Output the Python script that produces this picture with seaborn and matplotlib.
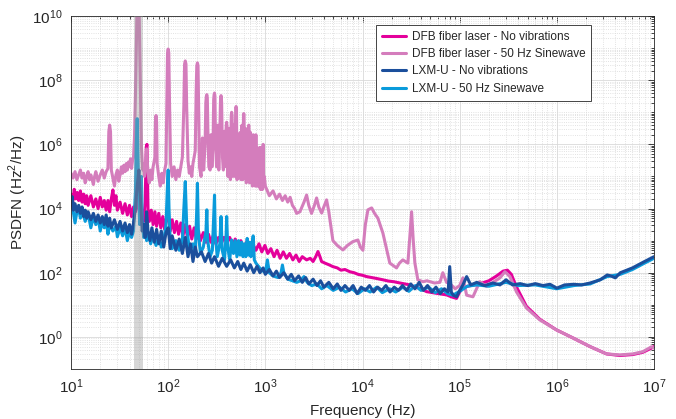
import numpy as np
import pandas as pd
import seaborn as sns
import matplotlib.pyplot as plt
from matplotlib.ticker import FixedLocator, NullFormatter, LogFormatterSciNotation
from matplotlib.lines import Line2D

# values: (frequency in Hz, log10 of PSDFN in Hz^2/Hz)
dfb_no_vib = [
    (10, 4.45), (10.4, 4.2), (10.8, 4.6), (11.2, 4.3), (11.6, 4.5), (12, 4.25), (12.5, 4.55), (13, 4.2),
    (13.5, 4.45), (14, 4.15), (14.5, 4.4), (15, 4.1), (16, 4.4), (17, 4.05), (18, 4.3), (19, 4.0),
    (20, 4.35), (21, 4.05), (22, 4.25), (23, 3.95), (24, 4.25), (25, 3.9), (26, 4.3), (27, 4.58),
    (28, 4.1), (29, 4.4), (30, 3.95), (32, 4.2), (34, 3.85), (36, 4.15), (38, 3.8), (40, 4.1),
    (42, 3.75), (44, 4.05), (46, 3.9), (48, 4.3), (50, 4.0), (52, 3.7), (54, 3.95), (56, 3.6),
    (58, 4.2), (59.5, 5.9), (60.5, 6.0), (62, 4.0), (64, 3.6), (67, 3.95), (70, 3.5), (73, 3.9), (76, 3.45),
    (80, 3.85), (84, 3.4), (88, 3.75), (92, 3.35), (96, 3.7), (100, 3.8), (105, 3.3), (110, 3.65),
    (116, 3.25), (122, 3.6), (128, 3.2), (135, 3.55), (142, 3.15), (150, 3.5), (158, 3.1), (166, 3.45),
    (175, 3.05), (185, 3.4), (195, 3.05), (205, 3.3), (215, 3.0), (230, 3.25), (245, 2.95), (260, 3.2),
    (275, 2.95), (290, 3.15), (310, 2.9), (330, 3.1), (350, 2.9), (375, 3.1), (400, 2.95), (430, 3.1),
    (460, 2.85), (490, 3.05), (520, 2.8), (560, 3.0), (600, 2.75), (640, 2.95), (690, 2.7), (740, 2.9),
    (800, 2.7), (860, 2.9), (920, 2.65), (990, 2.85), (1060, 2.6), (1140, 2.75), (1230, 2.5), (1320, 2.7),
    (1420, 2.45), (1530, 2.65), (1650, 2.45), (1780, 2.6), (1920, 2.4), (2070, 2.55), (2230, 2.35),
    (2400, 2.5), (2660, 2.4), (2900, 2.45), (3100, 2.35), (3300, 2.5), (3480, 2.66), (3650, 2.5),
    (3790, 2.35), (4100, 2.3), (4500, 2.25), (4960, 2.19), (5500, 2.15), (6000, 2.08), (6600, 2.1),
    (7420, 2.03), (8200, 2.0), (9000, 1.95), (10000, 1.92), (11000, 1.88), (12500, 1.85), (14000, 1.82),
    (16200, 1.78), (18500, 1.74), (21000, 1.72), (24300, 1.68), (27500, 1.65), (30800, 1.62),
    (35000, 1.55), (40000, 1.5), (45700, 1.41), (52000, 1.38), (60000, 1.35), (73300, 1.31),
    (82000, 1.25), (92900, 1.2), (100000, 1.4), (110000, 1.55), (130000, 1.6), (160000, 1.65),
    (200000, 1.75), (240000, 1.9), (280000, 2.05), (310000, 2.08), (340000, 1.95), (385000, 1.55),
    (487000, 0.95), (668000, 0.55), (990000, 0.22), (1460000, -0.03), (2190000, -0.3),
    (3250000, -0.53), (4450000, -0.58), (6050000, -0.55), (7670000, -0.48), (9400000, -0.35),
    (10000000, -0.3),
]

dfb_50hz = [
    (10, 5.10), (10.5, 4.95), (11, 5.15), (11.5, 4.90), (12, 5.05), (12.5, 5.20), (13, 4.95), (13.5, 5.10),
    (14, 4.80), (14.5, 5.00), (15, 5.15), (15.5, 4.90), (16, 5.05), (17, 4.75), (17.5, 5.00), (18, 5.15),
    (19, 4.85), (20, 5.05), (21, 5.20), (22, 4.95), (23, 5.15), (24, 5.25), (24.5, 6.40), (25, 6.60),
    (25.5, 6.40), (26, 5.20), (27, 4.95), (28, 4.70), (29, 5.05), (30, 5.20), (31, 4.85), (32, 5.05),
    (33, 5.30), (34, 5.10), (35, 5.35), (36, 5.15), (37, 5.40), (38, 5.20), (39, 5.45), (40, 5.30),
    (41, 5.55), (42, 5.25), (43, 5.50), (44, 5.60), (45, 6.20), (46, 7.50), (47, 9.00), (48, 10.5),
    (50, 10.5), (51, 9.00), (52, 7.50), (53, 6.00), (54, 5.50), (55, 5.20), (56, 5.40), (57, 5.00),
    (58, 5.30), (60, 5.86), (62, 5.10), (64, 4.80), (66, 5.20), (68, 4.90), (70, 5.30), (73, 5.60),
    (74, 6.70), (75, 6.90), (76, 6.70), (77, 5.40), (80, 5.00), (83, 4.70), (86, 5.10), (89, 4.80),
    (92, 5.20), (95, 5.40), (97, 7.50), (98.5, 8.85), (100, 8.97), (101.5, 8.85), (103, 7.50),
    (106, 5.40), (110, 5.00), (115, 5.30), (120, 4.90), (125, 5.20), (130, 5.00), (135, 5.30),
    (140, 5.60), (145, 7.20), (147.5, 8.50), (150, 8.60), (152.5, 8.50), (155, 7.20), (160, 5.50),
    (165, 5.10), (170, 5.30), (175, 5.00), (180, 5.40), (190, 5.80), (194, 7.60), (197, 8.45),
    (200, 8.54), (203, 8.45), (206, 7.00), (210, 5.30), (218, 5.00), (225, 6.20), (232, 5.20),
    (240, 6.00), (244, 7.30), (247, 7.50), (250, 7.55), (253, 7.45), (256, 6.50), (262, 5.30),
    (270, 5.20), (276, 6.30), (282, 5.30), (290, 6.10), (294, 7.40), (297, 7.55), (300, 7.60),
    (303, 7.50), (307, 6.00), (315, 5.30), (325, 6.60), (332, 5.20), (340, 6.30), (345, 7.30),
    (350, 7.52), (355, 7.30), (362, 5.60), (370, 5.20), (376, 6.40), (383, 5.30), (390, 6.00),
    (396, 6.60), (400, 6.69), (405, 6.50), (412, 5.00), (425, 6.50), (437, 4.90), (446, 6.90),
    (450, 7.00), (455, 6.90), (462, 5.00), (475, 6.60), (487, 5.00), (495, 7.10), (500, 7.18),
    (505, 7.10), (512, 4.90), (525, 6.30), (537, 5.00), (550, 6.37), (562, 4.90), (575, 6.60),
    (587, 4.90), (596, 6.90), (600, 6.96), (604, 6.90), (612, 5.00), (625, 6.50), (637, 4.80),
    (650, 6.41), (662, 4.90), (675, 6.60), (687, 4.80), (700, 6.38), (712, 4.80), (725, 6.20),
    (737, 4.70), (750, 6.30), (762, 4.80), (775, 6.10), (787, 4.70), (800, 6.30), (812, 4.70),
    (825, 5.90), (837, 4.70), (850, 5.63), (862, 4.70), (875, 5.90), (887, 4.60), (900, 5.90),
    (912, 4.60), (925, 5.70), (937, 4.60), (950, 6.00), (962, 4.80), (975, 5.00), (990, 4.80),
    (1000, 4.70), (1100, 4.40), (1200, 4.55), (1300, 4.30), (1400, 4.45), (1500, 4.25), (1600, 4.40),
    (1700, 4.20), (1800, 4.35), (1900, 4.10), (2000, 4.00), (2100, 3.85), (2270, 3.90), (2500, 4.20),
    (2660, 4.42), (2800, 4.10), (2990, 3.85), (3200, 4.10), (3370, 4.33), (3550, 4.05), (3800, 3.86),
    (4000, 4.05), (4270, 4.27), (4500, 3.90), (4960, 3.00), (5500, 2.85), (6290, 2.71), (7000, 2.85),
    (7960, 2.97), (8970, 3.02), (9500, 2.80), (10100, 2.70), (10700, 3.50), (11370, 3.96),
    (12420, 4.02), (13300, 3.85), (14400, 3.70), (16200, 3.24), (17500, 2.80), (19100, 2.30),
    (22400, 2.15), (24000, 2.30), (26000, 2.40), (29300, 2.30), (30500, 3.00), (32000, 3.90),
    (33300, 3.00), (34600, 2.30), (37100, 1.78), (42000, 1.72), (46000, 1.75), (55000, 1.68),
    (62600, 1.70), (67100, 2.00), (73300, 1.70), (80000, 1.65), (90000, 1.50), (100000, 1.60),
    (108000, 1.84), (118000, 1.30), (137000, 1.25), (161000, 1.72), (189000, 1.57), (220000, 1.70),
    (260000, 1.84), (292000, 2.03), (329000, 1.88), (385000, 1.40), (487000, 0.90), (668000, 0.53),
    (990000, 0.22), (1460000, -0.03), (2190000, -0.30), (3250000, -0.53), (4450000, -0.56),
    (6050000, -0.53), (7670000, -0.46), (9400000, -0.31), (10000000, -0.35),
]

lxm_no_vib = [
    (10, 4.1), (10.3, 4.37), (10.6, 3.95), (11, 4.15), (11.5, 3.9), (12, 4.1), (12.5, 3.85), (13, 4.05),
    (13.5, 3.75), (14, 3.95), (14.5, 3.7), (15, 3.9), (16, 3.65), (17, 3.85), (18, 3.6), (19, 3.8),
    (20, 3.55), (21, 3.75), (22, 3.5), (23, 3.8), (24, 3.45), (25, 3.7), (26, 3.4), (28, 3.65),
    (30, 3.35), (32, 3.6), (34, 3.3), (36, 3.55), (38, 3.25), (40, 3.5), (42, 3.2), (44, 3.55),
    (46, 4.0), (48, 4.7), (50, 5.2), (52, 4.2), (54, 3.3), (56, 3.5), (58, 3.1), (60, 3.9),
    (62, 3.3), (65, 3.0), (68, 3.4), (72, 2.95), (76, 3.35), (80, 2.9), (85, 3.3), (90, 2.8),
    (95, 3.25), (100, 3.4), (105, 2.75), (110, 3.15), (120, 2.7), (130, 3.05), (140, 2.6),
    (150, 3.1), (160, 2.5), (170, 2.9), (180, 2.35), (190, 2.8), (200, 2.5), (220, 2.65), (240, 2.35),
    (260, 2.6), (280, 2.3), (300, 2.5), (330, 2.2), (360, 2.45), (400, 2.2), (440, 2.4), (480, 2.15),
    (520, 2.35), (560, 2.1), (600, 2.3), (650, 2.05), (700, 2.25), (760, 2.0), (820, 2.2), (880, 2.0),
    (950, 2.15), (1000, 1.95), (1100, 2.1), (1200, 1.9), (1300, 2.05), (1400, 1.85), (1550, 2.0),
    (1700, 1.8), (1850, 1.95), (2000, 1.75), (2200, 1.9), (2400, 1.7), (2600, 1.85), (2800, 1.65),
    (3100, 1.8), (3400, 1.6), (3700, 1.75), (4000, 1.55), (4500, 1.7), (5000, 1.5), (5500, 1.65),
    (6000, 1.45), (6600, 1.6), (7300, 1.45), (8000, 1.6), (8800, 1.35), (9700, 1.55), (10700, 1.45),
    (11800, 1.6), (13000, 1.4), (14300, 1.55), (15800, 1.45), (17400, 1.6), (19200, 1.4),
    (21200, 1.55), (23400, 1.45), (25800, 1.6), (28500, 1.45), (31400, 1.65), (34700, 1.5),
    (38300, 1.7), (42300, 1.45), (46700, 1.6), (51600, 1.4), (57000, 1.55), (63000, 1.35),
    (69600, 1.5), (76000, 1.4), (79000, 2.19), (82000, 1.4), (86000, 1.3), (93000, 1.25),
    (100000, 1.45), (108000, 1.62), (118000, 1.88), (130000, 1.62), (150000, 1.7), (180000, 1.6),
    (220000, 1.68), (260000, 1.62), (300000, 1.78), (350000, 1.62), (420000, 1.66), (500000, 1.6),
    (600000, 1.66), (720000, 1.6), (850000, 1.64), (1000000, 1.52), (1200000, 1.62), (1500000, 1.64),
    (1800000, 1.62), (2200000, 1.68), (2800000, 1.78), (3300000, 1.93), (3600000, 1.9),
    (4000000, 1.84), (4500000, 2.0), (6000000, 2.15), (8000000, 2.35), (10000000, 2.5),
]

lxm_50hz = [
    (10, 4.2), (10.5, 3.95), (11, 3.55), (11.5, 3.9), (12, 4.0), (12.5, 3.7), (13, 3.95), (14, 3.6),
    (15, 3.85), (16, 3.4), (17, 3.75), (18, 3.5), (19, 3.7), (20, 3.3), (21, 3.6), (22, 3.4),
    (23, 3.65), (24, 3.2), (25, 3.5), (27, 3.3), (29, 3.45), (30, 3.12), (32, 3.4), (34, 3.15),
    (36, 3.4), (38, 3.0), (40, 3.3), (42, 3.1), (44, 3.3), (46, 4.5), (47, 6.0), (48, 6.8),
    (49, 5.5), (50, 4.2), (51, 3.5), (52, 4.5), (53, 5.0), (54, 3.6), (56, 3.1), (58, 3.3),
    (60, 3.0), (63, 3.2), (66, 2.9), (70, 3.15), (75, 2.85), (80, 3.1), (85, 2.8), (90, 3.0),
    (95, 3.5), (98, 4.6), (100, 5.2), (102, 4.0), (105, 3.0), (110, 2.75), (120, 3.0), (130, 2.7),
    (140, 3.0), (145, 4.0), (150, 4.84), (155, 3.5), (165, 2.7), (180, 2.9), (190, 2.6), (197, 4.0),
    (200, 4.79), (205, 3.2), (215, 2.6), (230, 2.8), (245, 3.3), (250, 3.96), (255, 3.0), (270, 2.5),
    (285, 2.7), (295, 3.8), (300, 4.42), (305, 3.2), (320, 2.5), (340, 2.9), (350, 3.75), (360, 2.7),
    (380, 2.4), (395, 3.2), (400, 3.75), (410, 2.8), (430, 2.4), (450, 3.02), (470, 2.6), (490, 3.0),
    (510, 2.5), (530, 3.0), (550, 2.55), (570, 2.95), (590, 2.5), (610, 2.9), (630, 2.5), (650, 3.07),
    (670, 2.55), (690, 2.95), (710, 2.5), (730, 2.9), (750, 3.15), (770, 2.4), (800, 2.3), (850, 2.2),
    (900, 2.1), (1000, 2.0), (1050, 2.4), (1100, 2.0), (1200, 1.9), (1350, 1.85), (1450, 2.0),
    (1500, 2.24), (1550, 2.0), (1700, 1.8), (1900, 1.75), (2100, 1.7), (2300, 1.75), (2500, 1.88),
    (2700, 1.7), (3000, 1.6), (3400, 1.65), (3800, 1.5), (4300, 1.6), (5000, 1.45), (5800, 1.55),
    (6700, 1.4), (7800, 1.5), (9000, 1.35), (10500, 1.5), (12000, 1.4), (14000, 1.55), (16000, 1.38),
    (19000, 1.5), (22000, 1.4), (26000, 1.55), (30000, 1.42), (35000, 1.6), (40000, 1.45),
    (48000, 1.55), (56000, 1.38), (65000, 1.5), (75000, 1.35), (85000, 1.3), (100000, 1.42),
    (120000, 1.58), (150000, 1.62), (200000, 1.58), (300000, 1.7), (400000, 1.6), (600000, 1.62),
    (1000000, 1.5), (1500000, 1.6), (2200000, 1.65), (3300000, 1.88), (4500000, 1.95),
    (6000000, 2.1), (8000000, 2.3), (10000000, 2.45),
]

series_names = [
    "DFB fiber laser - No vibrations",
    "DFB fiber laser - 50 Hz Sinewave",
    "LXM-U - No vibrations",
    "LXM-U - 50 Hz Sinewave",
]
series_data = [dfb_no_vib, dfb_50hz, lxm_no_vib, lxm_50hz]
colors = ["#E4009B", "#D47DBC", "#1B4F9C", "#0A9BDB"]
draw_order = [0, 1, 3, 2]

x_major = [1e1, 1e2, 1e3, 1e4, 1e5, 1e6, 1e7]
y_major = [1e0, 1e2, 1e4, 1e6, 1e8, 1e10]

rows = []
for name, data in zip(series_names, series_data):
    for f, lp in data:
        rows.append({"Frequency": f, "PSDFN": 10 ** lp, "Series": name})
df = pd.DataFrame(rows)

sns.set_style("white")
plt.rcParams["font.family"] = ["Liberation Sans", "DejaVu Sans"]
plt.rcParams["mathtext.fontset"] = "custom"
plt.rcParams["mathtext.rm"] = "Liberation Sans"

fig = plt.figure(figsize=(6.76, 4.19), dpi=100)
ax = fig.add_axes([71 / 676, 1 - 369 / 419, 583 / 676, 353 / 419])

palette = {series_names[i]: colors[i] for i in range(4)}
sns.lineplot(data=df, x="Frequency", y="PSDFN", hue="Series",
             hue_order=[series_names[i] for i in draw_order],
             palette=palette, estimator=None, sort=False, linewidth=2.2,
             legend=False, ax=ax)

ax.set_xscale("log")
ax.set_yscale("log")
ax.set_xlim(10, 1e7)
ax.set_ylim(1e-1, 1e10)

# shaded 50 Hz band
ax.axvspan(45, 55, color="0.6", alpha=0.4, lw=0, zorder=5)

# ticks only inside the view range
x_minor = [m * d for d in x_major[:-1] for m in range(2, 10)]
y_minor = [m * 10.0 ** e for e in range(-1, 10) for m in range(1, 10)
           if m * 10.0 ** e <= 1e10 and (m * 10.0 ** e) not in y_major]
ax.xaxis.set_major_locator(FixedLocator(x_major))
ax.yaxis.set_major_locator(FixedLocator(y_major))
ax.xaxis.set_minor_locator(FixedLocator(x_minor))
ax.yaxis.set_minor_locator(FixedLocator(y_minor))
ax.xaxis.set_major_formatter(LogFormatterSciNotation())
ax.yaxis.set_major_formatter(LogFormatterSciNotation())
ax.xaxis.set_minor_formatter(NullFormatter())
ax.yaxis.set_minor_formatter(NullFormatter())

ax.grid(which="major", color="#d9d9d9", linestyle="-", linewidth=0.6)
ax.grid(which="minor", color="#d9d9d9", linestyle=":", linewidth=0.6)
ax.set_axisbelow(True)

ax.tick_params(which="both", direction="in", top=True, right=True, colors="#262626",
               labelsize=11, width=0.6, pad=6)
ax.tick_params(which="major", length=4)
ax.tick_params(which="minor", length=2)
for s in ax.spines.values():
    s.set_color("#262626")
    s.set_linewidth(0.6)

ax.set_xlabel("Frequency (Hz)", fontsize=11, color="#262626", labelpad=6)
ax.set_ylabel("PSDFN (Hz$^{\\mathdefault{2}}$/Hz)", fontsize=11, color="#262626", labelpad=2)

handles = [Line2D([], [], color=colors[i], lw=2.2) for i in range(4)]
leg = ax.legend(handles, series_names, loc="upper right", bbox_to_anchor=(0.892, 0.975),
                fontsize=8.5, frameon=True, fancybox=False, framealpha=1, edgecolor="#262626",
                handlelength=2.0, handletextpad=0.5, labelspacing=0.45, borderpad=0.5,
                borderaxespad=0)
leg.get_frame().set_linewidth(0.6)

fig.savefig("out.png", dpi=100)
